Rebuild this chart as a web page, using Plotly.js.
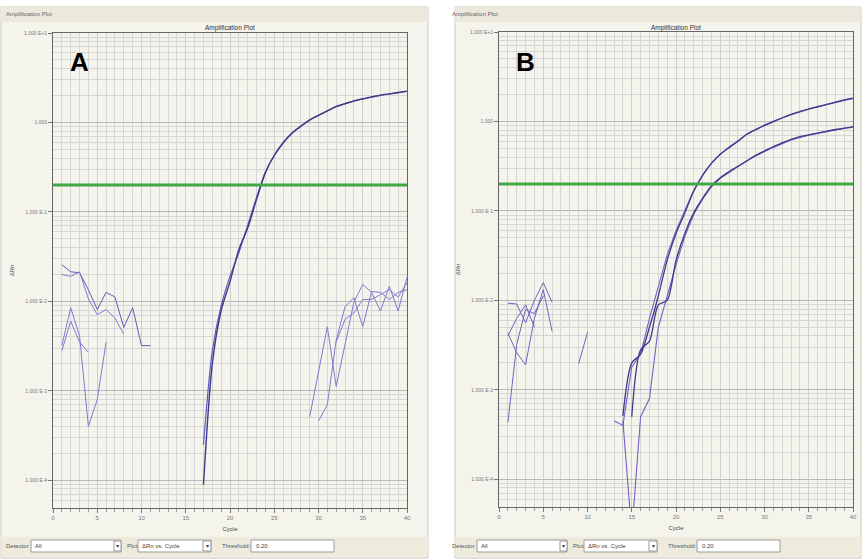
<!DOCTYPE html>
<html><head><meta charset="utf-8">
<script src="https://cdn.plot.ly/plotly-3.0.1.min.js"></script>
<style>html,body{margin:0;padding:0;background:#fff}#chart{width:862px;height:560px}</style>
</head><body><div id="chart"></div>
<script>
// ---------- shared ticks ----------
const yTickVals = [10, 1, 0.1, 0.01, 0.001, 0.0001];
const yTickText = ["1.000 E+1", "1.000", "1.000 E-1", "1.000 E-2", "1.000 E-3", "1.000 E-4"];
const xTickVals = [0, 5, 10, 15, 20, 25, 30, 35, 40];
const thresholdA = 0.20;
const thresholdB = 0.20;

// ---------- Panel A (ΔRn by cycle) ----------
const aMain1Start = 17;
const aMain1 = [0.000089, 0.0020, 0.0079, 0.0166, 0.038, 0.066, 0.138, 0.275, 0.427, 0.59, 0.76, 0.91,
  1.07, 1.20, 1.35, 1.51, 1.62, 1.74, 1.84, 1.93, 2.02, 2.09, 2.16, 2.24];
const aMain2Start = 17;
const aMain2 = [0.00025, 0.0028, 0.0089, 0.019, 0.035, 0.071, 0.145, 0.28, 0.43, 0.595, 0.76, 0.90,
  1.06, 1.20, 1.34, 1.50, 1.62, 1.73, 1.83, 1.92, 2.00, 2.08, 2.15, 2.22];
const aNoise1Start = 1;
const aNoise1 = [0.0257, 0.0214, 0.0209, 0.0135, 0.0081, 0.0126, 0.0112, 0.0051, 0.0085, 0.0032, 0.0032];
const aNoise2Start = 1;
const aNoise2 = [0.020, 0.019, 0.0214, 0.0107, 0.0071, 0.0081, 0.0065, 0.0043];
const aNoise3Start = 1;
const aNoise3 = [0.0032, 0.0085, 0.0041, 0.0004, 0.0008, 0.0035];
const aNoise4Start = 1;
const aNoise4 = [0.0028, 0.006, 0.0035, 0.0027];
const aLate1Start = 29;
const aLate1 = [0.00051, 0.00166, 0.0052, 0.00112, 0.0033, 0.0098, 0.0155, 0.0126, 0.0078, 0.0148, 0.0078, 0.0186];
const aLate2Start = 30;
const aLate2 = [0.00046, 0.0007, 0.0037, 0.0087, 0.011, 0.0052, 0.0129, 0.0126, 0.0105, 0.0126, 0.0135];
const aLate3Start = 32;
const aLate3 = [0.0035, 0.0063, 0.0074, 0.0105, 0.0105, 0.012, 0.0135, 0.0112, 0.0162];

// ---------- Panel B ----------
const bUp1Start = 14;
const bUp1 = [0.00051, 0.0020, 0.0025, 0.0050, 0.0112, 0.028, 0.056, 0.095, 0.166, 0.25, 0.34, 0.43, 0.51,
  0.60, 0.72, 0.81, 0.91, 1.00, 1.10, 1.20, 1.29, 1.38, 1.46, 1.55, 1.64, 1.74, 1.82];
const bUp2Start = 13;
const bUp2 = [0.00045, 0.0004, 0.0018, 0.0025, 0.0063, 0.014, 0.032, 0.060, 0.102, 0.17, 0.25, 0.34, 0.43,
  0.52, 0.61, 0.72, 0.81, 0.90, 0.99, 1.09, 1.19, 1.28, 1.37, 1.45, 1.54, 1.63, 1.72, 1.80];
const bLow1Start = 15;
const bLow1 = [0.0005, 0.0028, 0.0035, 0.0089, 0.010, 0.028, 0.056, 0.095, 0.138, 0.19, 0.234, 0.275,
  0.316, 0.363, 0.417, 0.468, 0.525, 0.575, 0.63, 0.676, 0.708, 0.741, 0.776, 0.813, 0.841, 0.871];
const bLow2Start = 14;
const bLow2 = [0.00045, 0.000025, 0.0005, 0.0008, 0.005, 0.0112, 0.025, 0.052, 0.091, 0.135, 0.186, 0.232,
  0.272, 0.312, 0.36, 0.412, 0.46, 0.515, 0.565, 0.62, 0.665, 0.70, 0.735, 0.77, 0.805, 0.835, 0.865];
const bMidStart = 9;
const bMid = [0.00195, 0.0044];
const bNoise1Start = 1;
const bNoise1 = [0.0093, 0.0091, 0.0056, 0.010, 0.0158, 0.0095];
const bNoise2Start = 1;
const bNoise2 = [0.0043, 0.0026, 0.0019, 0.0063, 0.0132, 0.0045];
const bNoise3Start = 1;
const bNoise3 = [0.00043, 0.0032, 0.0079, 0.0071, 0.0112];
const bNoise4Start = 1;
const bNoise4 = [0.004, 0.0063, 0.0089, 0.005];

// ---------- helpers ----------
const W = 862, H = 560;
const px = v => v / W;
const py = v => 1 - v / H;
function line(start, vals, color, width, xa, ya, smooth) {
  const ln = { color: color, width: width };
  if (smooth) { ln.shape = 'spline'; ln.smoothing = 0.8; }
  return { type: 'scatter', mode: 'lines', x: vals.map((_, i) => start + i), y: vals,
    line: ln, xaxis: xa, yaxis: ya, hoverinfo: 'skip', showlegend: false };
}
const dark = '#3b3a86', mid = '#5e5bbd', light = '#7f7bd0';
const bdark = '#45358a', bmid = '#7560c0';

const traces = [
  line(aNoise1Start, aNoise1, mid, 1, 'x', 'y'),
  line(aNoise2Start, aNoise2, light, 1, 'x', 'y'),
  line(aNoise3Start, aNoise3, light, 1, 'x', 'y'),
  line(aNoise4Start, aNoise4, light, 1, 'x', 'y'),
  line(aLate1Start, aLate1, light, 1, 'x', 'y'),
  line(aLate2Start, aLate2, light, 1, 'x', 'y'),
  line(aLate3Start, aLate3, light, 1, 'x', 'y'),
  line(aMain2Start, aMain2, mid, 1.2, 'x', 'y', true),
  line(aMain1Start, aMain1, dark, 1.4, 'x', 'y', true),
  { type: 'scatter', mode: 'lines', x: [0, 40], y: [thresholdA, thresholdA], xaxis: 'x', yaxis: 'y',
    line: { color: '#3fa845', width: 3 }, hoverinfo: 'skip', showlegend: false },

  line(bNoise1Start, bNoise1, bmid, 1, 'x2', 'y2'),
  line(bNoise2Start, bNoise2, bmid, 1, 'x2', 'y2'),
  line(bNoise3Start, bNoise3, bmid, 1, 'x2', 'y2'),
  line(bNoise4Start, bNoise4, bmid, 1, 'x2', 'y2'),
  line(bMidStart, bMid, bmid, 1, 'x2', 'y2'),
  line(bLow2Start, bLow2, bmid, 1.1, 'x2', 'y2'),
  line(bUp2Start, bUp2, bmid, 1.1, 'x2', 'y2'),
  line(bLow1Start, bLow1, bdark, 1.3, 'x2', 'y2', true),
  line(bUp1Start, bUp1, bdark, 1.3, 'x2', 'y2', true),
  { type: 'scatter', mode: 'lines', x: [0, 40], y: [thresholdB, thresholdB], xaxis: 'x2', yaxis: 'y2',
    line: { color: '#3fa845', width: 3 }, hoverinfo: 'skip', showlegend: false }
];

const FONT = 'Liberation Sans, Arial, sans-serif';
function xax(domain, anchor) {
  return { domain: domain, anchor: anchor, range: [0, 40], tickvals: xTickVals, ticks: 'outside', ticklen: 4,
    tickcolor: '#777', tickfont: { size: 6, color: '#777', family: FONT }, showline: true, mirror: true,
    linecolor: '#666', linewidth: 1, showgrid: true, gridcolor: '#cfcfcf', gridwidth: 1, zeroline: false,
    minor: { dtick: 1, showgrid: true, gridcolor: '#d6d6d6', ticks: 'outside', ticklen: 3, tickcolor: '#999' },
    title: { text: 'Cycle', font: { size: 6, color: '#444', family: FONT }, standoff: 6 }, fixedrange: true };
}
function yax(domain, anchor) {
  return { domain: domain, anchor: anchor, type: 'log', range: [-4.31, 1], tickvals: yTickVals, ticktext: yTickText,
    ticks: 'outside', ticklen: 4, tickcolor: '#777', tickfont: { size: 5, color: '#777', family: FONT },
    showline: true, mirror: true, linecolor: '#666', linewidth: 1, showgrid: true, gridcolor: '#b8b8b8',
    zeroline: false, minor: { dtick: 'D1', showgrid: true, gridcolor: '#d6d6d6' },
    title: { text: 'ΔRn', font: { size: 6, color: '#444', family: FONT }, standoff: 8 }, fixedrange: true };
}

const panelFill = '#f5f4ec', headFill = '#ebe9dc', ctrlFill = '#eeebdd';
const shapes = [];
function panel(x0, x1) {
  shapes.push({ type: 'rect', xref: 'paper', yref: 'paper', x0: px(x0), x1: px(x1), y0: py(558), y1: py(7),
    fillcolor: panelFill, line: { color: '#cbc9ba', width: 1 }, layer: 'below' });
  shapes.push({ type: 'rect', xref: 'paper', yref: 'paper', x0: px(x0), x1: px(x1), y0: py(22), y1: py(7),
    fillcolor: headFill, line: { width: 0 }, layer: 'below' });
  shapes.push({ type: 'rect', xref: 'paper', yref: 'paper', x0: px(x0), x1: px(x1), y0: py(556), y1: py(537),
    fillcolor: ctrlFill, line: { width: 0 }, layer: 'below' });
}
panel(1, 428);
panel(455, 861);

const annotations = [];
function txt(x, y, text, size, color, opts) {
  annotations.push(Object.assign({ xref: 'paper', yref: 'paper', x: px(x), y: py(y), text: text, showarrow: false,
    xanchor: 'left', yanchor: 'middle', font: { size: size, color: color, family: FONT } }, opts || {}));
}
function box(x0, x1, y0, y1) {
  shapes.push({ type: 'rect', xref: 'paper', yref: 'paper', x0: px(x0), x1: px(x1), y0: py(y1), y1: py(y0),
    fillcolor: '#ffffff', line: { color: '#9a9a9a', width: 1 } });
}
function controls(o, plotLeft, plotRight) {
  txt(o + 4, 14, 'Amplification Plot', 6, '#666');
  txt((plotLeft + plotRight) / 2, 28, 'Amplification Plot', 6.5, '#333', { xanchor: 'center' });
  txt(o + 4, 546, 'Detector', 6, '#555');
  box(o + 31, o + 121, 540, 552);
  txt(o + 33, 546, 'All', 6, '#444');
  box(o + 114, o + 121, 541, 551);
  txt(o + 117.5, 546, '▾', 6, '#444', { xanchor: 'center' });
  txt(o + 125, 546, 'Plot', 6, '#555');
  box(o + 138, o + 211, 540, 552);
  txt(o + 140, 546, 'ΔRn vs. Cycle', 6, '#444');
  box(o + 203, o + 211, 541, 551);
  txt(o + 207, 546, '▾', 6, '#444', { xanchor: 'center' });
  txt(o + 220, 546, 'Threshold:', 6, '#555');
  box(o + 251, o + 334, 540, 552);
  txt(o + 254, 546, '0.20', 6, '#444');
}
controls(0, 53, 407);
controls(446, 499, 853);
txt(68, 62, '<b>A</b>', 26, '#000');
txt(514, 62, '<b>B</b>', 26, '#000');

const layout = {
  width: W, height: H, margin: { l: 0, r: 0, t: 0, b: 0 },
  paper_bgcolor: '#ffffff', plot_bgcolor: '#ffffff', showlegend: false,
  font: { family: FONT },
  xaxis: xax([px(53), px(407)], 'y'),
  yaxis: yax([py(508), py(33)], 'x'),
  xaxis2: xax([px(499), px(853)], 'y2'),
  yaxis2: yax([py(507), py(32)], 'x2'),
  shapes: shapes, annotations: annotations
};
Plotly.newPlot('chart', traces, layout, { displayModeBar: false, staticPlot: true });
</script></body></html>
